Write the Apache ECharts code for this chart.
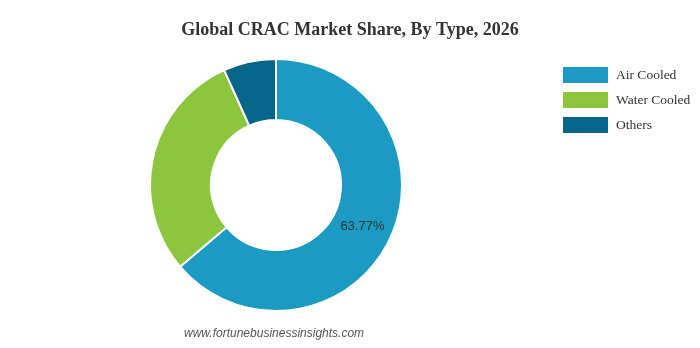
<!DOCTYPE html>
<html><head><meta charset="utf-8">
<script src="https://cdn.jsdelivr.net/npm/echarts@6/dist/echarts.min.js"></script>
<style>html,body{margin:0;padding:0;background:#fff}#c{width:700px;height:348px}</style>
</head><body><div id="c"></div>
<script>
const categories = ['Air Cooled', 'Water Cooled', 'Others'];
const shares = [63.77, 29.48, 6.75];
const showLabel = [true, false, false];
const colors = ['#1b9bc4', '#8cc63f', '#05658b'];

const chart = echarts.init(document.getElementById('c'));
chart.setOption({
  animation: false,
  title: {
    text: 'Global CRAC Market Share, By Type, 2026',
    left: 'center', top: 16,
    textStyle: { fontFamily: 'Liberation Serif', fontSize: 18, fontWeight: 'bold', color: '#333' }
  },
  legend: {
    orient: 'vertical', left: 558, top: 62,
    itemWidth: 45, itemHeight: 16, itemGap: 9,
    icon: 'rect',
    itemStyle: { borderWidth: 0 },
    textStyle: { fontFamily: 'Liberation Serif', fontSize: 13.5, color: '#333', padding: [0, 0, 0, 3] },
    data: categories
  },
  graphic: [{
    type: 'text', left: 184, top: 328,
    style: { text: 'www.fortunebusinessinsights.com', font: 'italic 12px "Liberation Sans", Arial', fill: '#555' }
  }],
  series: [{
    type: 'pie',
    center: [276, 185],
    radius: [65, 126],
    startAngle: 90,
    clockwise: true,
    itemStyle: { borderColor: '#fff', borderWidth: 2 },
    labelLine: { show: false },
    data: categories.map((n, i) => ({
      name: n, value: shares[i],
      itemStyle: { color: colors[i] },
      label: {
        show: showLabel[i], position: 'inside',
        formatter: shares[i].toFixed(2) + '%',
        fontFamily: 'Liberation Sans', fontSize: 13, color: '#333', padding: [0, 6, 0, 0]
      }
    }))
  }]
});
</script>
</body></html>
